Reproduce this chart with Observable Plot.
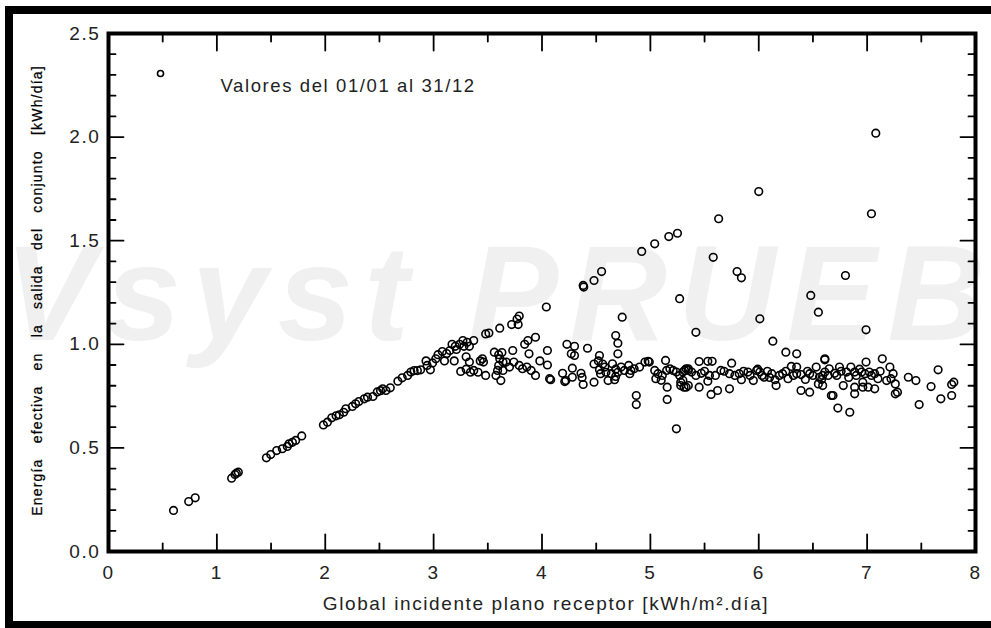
<!DOCTYPE html>
<html><head><meta charset="utf-8">
<script src="https://cdn.jsdelivr.net/npm/d3@7"></script>
<script src="https://cdn.jsdelivr.net/npm/@observablehq/plot@0.6"></script>
<style>
html,body{margin:0;padding:0;background:#fff;}
#wrap{position:relative;width:991px;height:628px;overflow:hidden;}
#border{position:absolute;left:5px;top:6px;width:1100px;height:623px;border:8px solid #000;box-sizing:border-box;pointer-events:none;}
#wrap svg{position:absolute;left:0;top:0;}
text[aria-label="txt"], g[aria-label="x-axis tick label"] text, g[aria-label="y-axis tick label"] text{letter-spacing:1.6px;}
text[aria-label="ylabel"]{letter-spacing:1.2px;word-spacing:10px;}
text[aria-label="watermark"]{letter-spacing:11px;}
</style>
</head><body>
<div id="wrap"><div id="border"></div></div>
<script>
// Global incident irradiation on collector plane [kWh/m².day]
const irradiation = [
  0.60,0.74,0.80,1.136,1.167,1.198,1.18,1.457,1.497,1.552,1.604,1.65,1.666,1.697,1.727,1.783,1.983,2.02,2.06,2.13,2.17,2.19,2.10,2.25,
  2.28,2.31,2.36,2.39,2.44,2.48,2.51,2.53,2.56,2.60,2.67,2.71,2.76,2.79,2.82,2.85,2.88,2.93,2.94,2.97,
  2.99,3.02,3.04,3.08,3.12,3.15,3.17,3.20,3.21,3.24,3.27,3.28,3.31,3.33,3.19,3.10,3.37,3.30,3.33,3.25,3.30,3.34,3.37,3.41,3.43,3.45,3.46,3.48,3.48,3.51,3.61,3.56,3.575,3.62,3.60,3.63,3.61,3.64,3.60,3.59,3.64,3.67,3.70,3.73,3.72,3.77,3.79,3.78,3.84,3.87,3.88,3.94,4.04,3.74,3.79,3.82,3.86,3.90,3.94,3.98,4.05,4.05,4.07,
  4.08,4.19,4.21,4.23,4.27,4.30,4.30,4.28,4.28,4.36,4.37,4.38,4.38,4.385,4.42,4.48,4.55,4.48,4.48,4.53,4.52,4.56,4.53,4.58,4.54,4.59,4.61,4.64,4.65,4.68,4.70,4.73,4.68,4.67,4.68,4.70,4.70,4.74,4.76,4.80,4.81,4.82,4.85,4.90,4.95,4.98,4.99,4.87,4.87,4.92,5.04,5.17,5.25,5.27,5.14,5.155,5.155,5.24,5.04,5.07,5.05,5.10,5.11,5.15,5.18,5.21,5.24,5.27,5.30,5.33,5.35,5.28,5.31,5.35,5.30,4.22,
  5.42,5.58,5.63,5.80,5.84,6.00,6.01,6.13,6.25,6.35,6.48,6.55,6.61,5.45,5.53,5.57,5.75,5.315,5.35,5.33,5.42,5.47,5.45,5.53,5.545,5.56,5.62,5.65,5.73,5.73,5.82,5.84,5.90,5.95,5.98,6.01,6.05,6.12,6.15,6.16,6.22,6.27,6.30,6.35,6.35,6.39,6.39,6.47,6.47,6.53,6.55,6.56,6.61,6.64,6.67,5.38,5.50,5.60,5.68,5.78,5.86,5.92,5.99,6.03,6.08,6.10,6.19,6.25,6.32,6.43,6.45,6.50,6.58,5.28,
  7.08,7.04,6.80,6.99,6.61,7.14,6.99,7.21,7.655,7.38,7.45,7.59,7.68,7.78,7.80,7.78,7.48,7.26,7.26,7.28,7.24,7.22,7.18,7.10,7.07,7.01,6.96,6.96,6.98,6.95,6.885,6.885,6.78,6.685,6.73,6.84,6.59,6.59,6.65,6.745,6.81,6.85,6.885,7.02,7.07,6.72,6.76,6.90,6.93,7.04,6.83,6.70,7.12
];
// Effective energy at array output [kWh/day]
const energy = [
  0.198,0.241,0.259,0.354,0.372,0.383,0.378,0.452,0.468,0.487,0.496,0.507,0.52,0.527,0.536,0.558,0.611,0.624,0.645,0.66,0.672,0.689,0.655,0.70,
  0.713,0.724,0.737,0.745,0.748,0.77,0.776,0.785,0.777,0.79,0.822,0.838,0.85,0.866,0.873,0.873,0.877,0.92,0.898,0.877,
  0.91,0.93,0.95,0.965,0.955,0.97,1.0,0.99,0.975,1.0,1.018,0.99,1.01,0.99,0.92,0.92,1.018,0.94,0.914,0.869,0.88,0.865,0.874,0.865,0.92,0.93,0.914,0.85,1.05,1.054,1.078,0.962,0.85,0.825,0.95,0.96,0.93,0.914,0.898,0.874,0.874,0.914,0.89,0.97,1.095,1.122,1.136,1.095,1.0,1.018,0.954,1.034,1.18,0.914,0.898,0.882,0.89,0.874,0.85,0.92,0.97,0.9,0.834,
  0.829,0.86,0.82,1.0,0.954,0.946,0.99,0.885,0.841,0.86,0.84,0.806,1.284,1.276,0.981,1.308,1.351,0.817,0.905,0.946,0.92,0.905,0.877,0.89,0.858,0.865,0.825,0.858,0.906,0.88,0.865,0.89,0.845,0.829,1.042,1.005,0.954,1.131,0.874,0.898,0.858,0.874,0.882,0.89,0.914,0.918,0.914,0.753,0.709,1.448,1.485,1.52,1.536,1.22,0.922,0.793,0.734,0.592,0.874,0.858,0.834,0.826,0.85,0.874,0.882,0.874,0.866,0.85,0.866,0.882,0.874,0.817,0.793,0.801,0.826,0.825,
  1.058,1.42,1.606,1.351,1.321,1.737,1.123,1.015,0.962,0.954,1.236,1.155,0.925,0.917,0.918,0.918,0.909,0.874,0.882,0.793,0.85,0.86,0.793,0.822,0.85,0.758,0.777,0.874,0.858,0.785,0.858,0.829,0.866,0.825,0.874,0.866,0.841,0.858,0.829,0.801,0.858,0.834,0.893,0.89,0.858,0.854,0.777,0.858,0.769,0.89,0.809,0.841,0.866,0.85,0.753,0.866,0.87,0.85,0.87,0.85,0.87,0.85,0.88,0.85,0.87,0.84,0.85,0.87,0.85,0.83,0.87,0.85,0.83,0.801,
  2.019,1.63,1.332,1.07,0.93,0.93,0.914,0.89,0.877,0.841,0.825,0.796,0.737,0.806,0.817,0.753,0.709,0.809,0.761,0.769,0.858,0.834,0.825,0.834,0.785,0.793,0.793,0.817,0.858,0.866,0.793,0.761,0.801,0.753,0.692,0.672,0.801,0.85,0.882,0.89,0.866,0.89,0.866,0.866,0.858,0.85,0.87,0.85,0.88,0.85,0.84,0.86,0.87
];
const xMajorTicks = [0,1,2,3,4,5,6,7,8];
const xMinorTicks = [0.5,1.5,2.5,3.5,4.5,5.5,6.5,7.5];
const yMajorTicks = [0,0.5,1.0,1.5,2.0,2.5];
const yMinorTicks = [0.1,0.2,0.3,0.4,0.6,0.7,0.8,0.9,1.1,1.2,1.3,1.4,1.6,1.7,1.8,1.9,2.1,2.2,2.3,2.4];
const xLabel = "Global incidente plano receptor [kWh/m².día]";
const yLabel = "Energía efectiva en la salida del conjunto [kWh/día]";
const legendLabel = "Valores del 01/01 al 31/12";
const watermarkText = "PVsyst PRUEBA";

const points = irradiation.map((x, i) => ({x, y: energy[i]}));
const line = {draw(context, l) { context.moveTo(0, 0); context.lineTo(0, -l); }};
const tk = (data, anchor, rotate, length) => Plot.vector(data, {
  [anchor === "bottom" || anchor === "top" ? "x" : "y"]: d => d,
  frameAnchor: anchor, rotate, length, anchor: "start", shape: line,
  stroke: "#000", strokeWidth: 1.8
});
const font = "'Liberation Sans', Arial, sans-serif";

const chart = Plot.plot({
  width: 991, height: 628,
  marginLeft: 108, marginRight: 16, marginTop: 33, marginBottom: 77,
  style: {fontFamily: font, background: "transparent", overflow: "hidden"},
  x: {domain: [0, 8]},
  y: {domain: [0, 2.5]},
  marks: [
    Plot.text([watermarkText], {frameAnchor: "middle", textAnchor: "middle", dx: -38, dy: 4, fontSize: 135, fontWeight: "bold", fontStyle: "italic", fill: "#f0f0f0", ariaLabel: () => "watermark"}),
    Plot.axisX(xMajorTicks, {tickSize: 0, tickPadding: 14, fontSize: 19, fill: "#222", label: null, tickFormat: d => String(d)}),
    Plot.axisY(yMajorTicks, {tickSize: 0, tickPadding: 8, fontSize: 19, fill: "#222", label: null, tickFormat: d => d.toFixed(1)}),
    tk(xMajorTicks, "bottom", 0, 17), tk(xMinorTicks, "bottom", 0, 8),
    tk(xMajorTicks, "top", 180, 17), tk(xMinorTicks, "top", 180, 8),
    tk(yMajorTicks, "left", 90, 15), tk(yMinorTicks, "left", 90, 7),
    tk(yMajorTicks, "right", -90, 15), tk(yMinorTicks, "right", -90, 7),
    Plot.dot(points, {x: "x", y: "y", r: 3.8, stroke: "#000", strokeWidth: 1.6, fill: "none"}),
    Plot.dot([legendLabel], {frameAnchor: "top-left", dx: 52, dy: 40, r: 3, stroke: "#000", strokeWidth: 1.6, fill: "none"}),
    Plot.text([legendLabel], {frameAnchor: "top-left", dx: 112, dy: 45, textAnchor: "start", fontSize: 18.5, fill: "#222", ariaLabel: () => "txt"}),
    Plot.text([xLabel], {frameAnchor: "bottom", textAnchor: "middle", dx: 4, dy: 58, fontSize: 19, fill: "#222", ariaLabel: () => "txt"}),
    Plot.text([yLabel], {frameAnchor: "left", textAnchor: "middle", lineAnchor: "middle", dx: -71, dy: -2, rotate: -90, fontSize: 14, fill: "#000", stroke: "#000", strokeWidth: 0.25, ariaLabel: () => "ylabel"}),
    Plot.frame({stroke: "#000", strokeWidth: 4})
  ]
});
document.getElementById("wrap").insertBefore(chart, document.getElementById("border"));
</script>
</body></html>
